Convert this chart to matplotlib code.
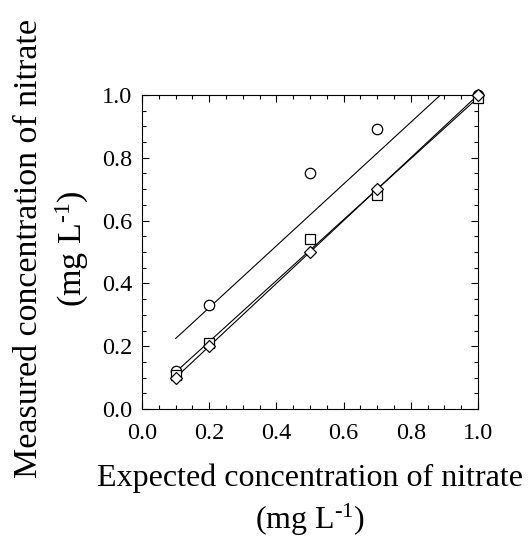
import numpy as np
import matplotlib
matplotlib.use("Agg")
import matplotlib.pyplot as plt
from matplotlib.ticker import MultipleLocator

plt.rcParams['font.family'] = ['Liberation Serif', 'DejaVu Serif']
plt.rcParams['mathtext.fontset'] = 'custom'
plt.rcParams['mathtext.rm'] = 'Liberation Serif'
plt.rcParams['mathtext.default'] = 'regular'

expected = [0.1, 0.2, 0.5, 0.7, 1.0]
measured_circle = [0.12, 0.33, 0.75, 0.89, 1.00]
measured_square = [0.11, 0.21, 0.54, 0.68, 0.99]
measured_diamond = [0.10, 0.20, 0.50, 0.70, 1.00]

series = [
    (measured_circle, 'o', 7.5),
    (measured_square, 's', 7),
    (measured_diamond, 'D', 6),
]

unit = '(mg L$^{\u2010 1}$)'

fig = plt.figure(figsize=(5.30, 5.39), dpi=100)
ax = fig.add_axes([0.268, 0.241, 0.634, 0.583])

# linear fit line for each series
xfit = np.array([expected[0], expected[-1]])
for yvals, marker, size in series:
    slope, icpt = np.polyfit(expected, yvals, 1)
    ax.plot(xfit, slope * xfit + icpt, color='black', lw=0.8, zorder=2)
for yvals, marker, size in series:
    ax.plot(expected, yvals, linestyle='none', marker=marker, markersize=size,
            markerfacecolor='white', markeredgecolor='black',
            markeredgewidth=0.9, zorder=3, clip_on=False)

ax.set_xlim(0, 1.0)
ax.set_ylim(0, 1.0)
ax.xaxis.set_major_locator(MultipleLocator(0.2))
ax.yaxis.set_major_locator(MultipleLocator(0.2))
ax.xaxis.set_minor_locator(MultipleLocator(0.05))
ax.yaxis.set_minor_locator(MultipleLocator(0.05))
ax.xaxis.set_major_formatter(plt.FormatStrFormatter('%.1f'))
ax.yaxis.set_major_formatter(plt.FormatStrFormatter('%.1f'))
ax.tick_params(which='both', direction='in', top=True, right=True,
               width=0.8, labelsize=17.5)
ax.tick_params(which='major', length=5)
ax.tick_params(which='minor', length=3)
ax.tick_params(axis='x', pad=10)
ax.tick_params(axis='y', pad=7)
for s in ax.spines.values():
    s.set_linewidth(0.8)

ax.set_xlabel('Expected concentration of nitrate\n' + unit, fontsize=23,
              linespacing=1.35)
ax.set_ylabel('Measured concentration of nitrate\n' + unit, fontsize=24.5,
              linespacing=1.35)
ax.xaxis.set_label_coords(0.5, -0.172)
ax.yaxis.set_label_coords(-0.153, 0.51)

fig.savefig('out.png', dpi=100)
